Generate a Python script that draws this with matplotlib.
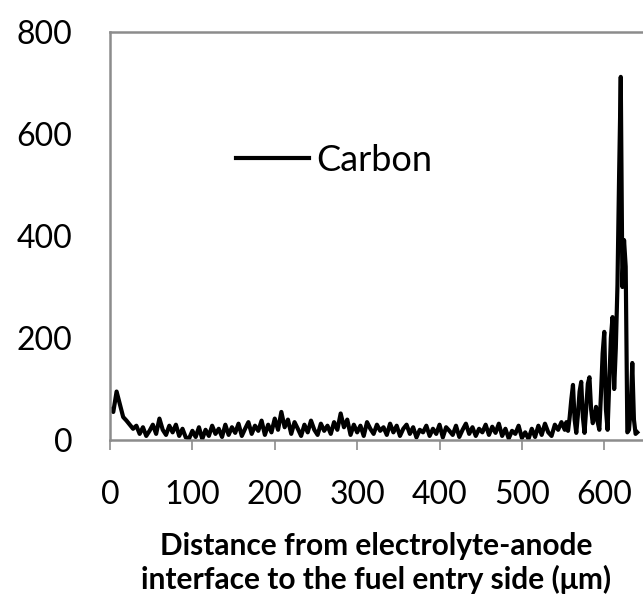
import matplotlib
matplotlib.use("Agg")
import matplotlib.pyplot as plt
import numpy as np

# carbon signal, flat part sampled every 4 um (0..548)
carbon_flat = [62, 55, 95, 70, 45, 38, 30, 22, 28, 12, 25, 8, 18, 30, 12, 42,
               20, 10, 28, 15, 30, 8, 22, 5, 3, 18, 6, 25, 2, 20, 8, 28,
               12, 22, 6, 30, 10, 25, 14, 32, 8, 22, 35, 12, 28, 18, 38, 10,
               30, 15, 42, 20, 55, 25, 40, 12, 35, 22, 8, 30, 15, 38, 20, 10,
               32, 18, 28, 12, 35, 20, 52, 25, 40, 10, 30, 15, 28, 8, 35, 22,
               12, 30, 18, 25, 10, 32, 15, 28, 8, 22, 30, 12, 25, 5, 20, 15,
               28, 8, 22, 12, 30, 5, 25, 18, 10, 28, 6, 20, 32, 12, 25, 8,
               22, 15, 30, 10, 26, 14, 32, 8, 22, 3, 18, 12, 28, 4, 15, 2,
               22, 6, 28, 10, 32, 15, 8, 30, 20, 35]
# peak region near the fuel entry side, every 2 um (552..640)
carbon_peak = [20, 35, 18, 45, 80, 108, 40, 14, 50, 95, 114, 45, 14, 60, 110,
               123, 60, 33, 45, 65, 35, 20, 90, 170, 212, 60, 20, 110, 200,
               241, 100, 180, 304, 520, 712, 300, 392, 340, 15, 20, 60, 151,
               40, 12, 15]

x_flat = np.arange(0, 4 * len(carbon_flat), 4)
x_peak = np.arange(552, 552 + 2 * len(carbon_peak), 2)
distance = np.concatenate([x_flat, x_peak])
carbon = np.array(carbon_flat + carbon_peak)

plt.rcParams['font.family'] = ['Lato', 'DejaVu Sans']

fig = plt.figure(figsize=(6.43, 6.04), dpi=100)
ax = fig.add_axes([110 / 643, 1 - 440 / 604, 533 / 643, 408 / 604])

ax.plot(distance, carbon, color='black', lw=3.0, label='Carbon')

ax.set_xlim(0, 647)
ax.set_ylim(0, 800)
ax.set_xticks(range(0, 700, 100))
ax.set_yticks(range(0, 900, 200))

for side in ['left', 'bottom', 'top']:
    ax.spines[side].set_color('#8c8c8c')
    ax.spines[side].set_linewidth(1.8)
ax.spines['right'].set_visible(False)

ax.tick_params(axis='x', direction='out', length=7, width=1.2,
               color='#8c8c8c', pad=22, labelsize=23)
ax.tick_params(axis='y', length=0, pad=27, labelsize=23)

ax.set_xlabel('Distance from electrolyte-anode\ninterface to the fuel entry side (\u03bcm)',
              fontsize=21.5, fontweight='bold', labelpad=16)

ax.legend(loc='center left', bbox_to_anchor=(0.237, 0.686), frameon=False,
          fontsize=26, handlelength=2.0, handletextpad=0.22, borderaxespad=0,
          borderpad=0)

fig.savefig('out.png', dpi=100)
